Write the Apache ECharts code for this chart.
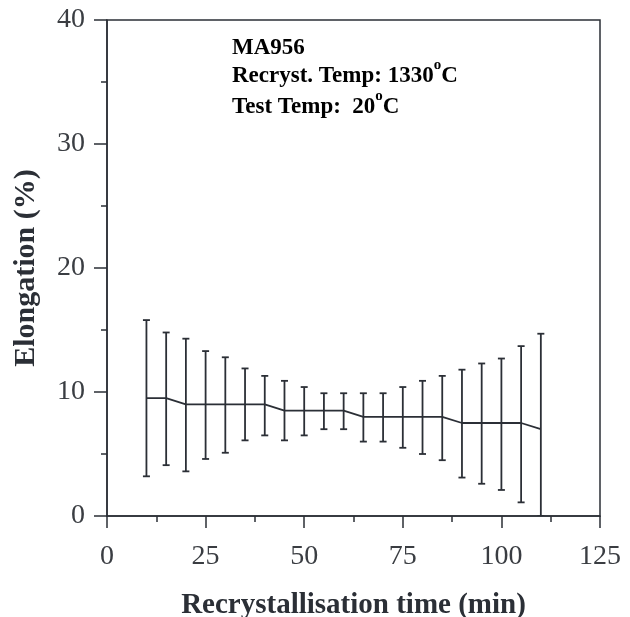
<!DOCTYPE html>
<html>
<head>
<meta charset="utf-8">
<script src="https://cdn.jsdelivr.net/npm/echarts@6/dist/echarts.min.js"></script>
<style>
  html, body { margin: 0; padding: 0; background: #ffffff; }
  #chart { width: 630px; height: 617px; }
</style>
</head>
<body>
<div id="chart"></div>
<script>
// Recrystallisation time (min)
const times = [10, 15, 20, 25, 30, 35, 40, 45, 50, 55, 60, 65, 70, 75, 80, 85, 90, 95, 100, 105, 110];
// Mean elongation (%)
const meanElong = [9.5, 9.5, 9, 9, 9, 9, 9, 8.5, 8.5, 8.5, 8.5, 8, 8, 8, 8, 8, 7.5, 7.5, 7.5, 7.5, 7];
// Error bar limits (%)
const upperElong = [15.8, 14.8, 14.3, 13.3, 12.8, 11.9, 11.3, 10.9, 10.4, 9.9, 9.9, 9.9, 9.9, 10.4, 10.9, 11.3, 11.8, 12.3, 12.7, 13.7, 14.7];
const lowerElong = [3.2, 4.1, 3.6, 4.6, 5.1, 6.1, 6.5, 6.1, 6.5, 7.0, 7.0, 6.0, 6.0, 5.5, 5.0, 4.5, 3.1, 2.6, 2.1, 1.1, 0];

const ink = '#2b2f36';
const serif = '"Liberation Serif", "Times New Roman", serif';

const chart = echarts.init(document.getElementById('chart'));

const lineData = times.map((t, i) => [t, meanElong[i]]);
const barData = times.map((t, i) => [t, lowerElong[i], upperElong[i]]);

const sup = { fontFamily: serif, fontWeight: 'bold', fontSize: 15, color: ink, verticalAlign: 'top', lineHeight: 30 };
const base = { fontFamily: serif, fontWeight: 'bold', fontSize: 23, color: ink, verticalAlign: 'bottom', lineHeight: 30 };

chart.setOption({
  backgroundColor: '#ffffff',
  animation: false,
  grid: {
    left: 107, right: 30, top: 20, bottom: 101,
    outerBoundsMode: 'none',
    containLabel: false,
    show: true, borderColor: ink, borderWidth: 1.5, backgroundColor: 'transparent'
  },
  xAxis: {
    type: 'value', min: 0, max: 125, interval: 25,
    name: 'Recrystallisation time (min)',
    nameLocation: 'middle', nameGap: 75,
    nameTextStyle: { fontFamily: serif, fontWeight: 'bold', fontSize: 29, color: ink },
    axisLine: { show: true, lineStyle: { color: ink, width: 1.5 } },
    axisTick: { show: true, length: 12, lineStyle: { color: ink, width: 1.5 } },
    minorTick: { show: true, splitNumber: 2, length: 6, lineStyle: { color: ink, width: 1.5 } },
    axisLabel: { fontFamily: serif, fontSize: 28, color: '#3a3d42', margin: 27 },
    splitLine: { show: false }
  },
  yAxis: {
    type: 'value', min: 0, max: 40, interval: 10,
    name: 'Elongation (%)',
    nameLocation: 'middle', nameGap: 66,
    nameTextStyle: { fontFamily: serif, fontWeight: 'bold', fontSize: 30, color: ink },
    axisLine: { show: true, lineStyle: { color: ink, width: 1.5 } },
    axisTick: { show: true, length: 13, lineStyle: { color: ink, width: 1.5 } },
    minorTick: { show: true, splitNumber: 2, length: 6, lineStyle: { color: ink, width: 1.5 } },
    axisLabel: { fontFamily: serif, fontSize: 28, color: '#3a3d42', margin: 22 },
    splitLine: { show: false }
  },
  series: [
    {
      type: 'custom',
      clip: true,
      data: barData,
      renderItem: function (params, api) {
        const x = api.value(0);
        const lo = api.coord([x, api.value(1)]);
        const hi = api.coord([x, api.value(2)]);
        const half = 3.5;
        const style = { stroke: ink, lineWidth: 1.8, fill: null };
        return {
          type: 'group',
          children: [
            { type: 'line', shape: { x1: hi[0], y1: hi[1], x2: lo[0], y2: lo[1] }, style: style },
            { type: 'line', shape: { x1: hi[0] - half, y1: hi[1], x2: hi[0] + half, y2: hi[1] }, style: style },
            { type: 'line', shape: { x1: lo[0] - half, y1: lo[1], x2: lo[0] + half, y2: lo[1] }, style: style }
          ]
        };
      },
      z: 3
    },
    {
      type: 'line',
      data: lineData,
      symbol: 'none',
      lineStyle: { color: ink, width: 1.8 },
      z: 4
    }
  ],
  graphic: [
    {
      type: 'text', left: 232, top: 37,
      style: {
        text: '{b|MA956}',
        rich: { b: base }
      }
    },
    {
      type: 'text', left: 232, top: 58,
      style: {
        text: '{b|Recryst. Temp: 1330}{s|o}{b|C}',
        rich: { b: base, s: sup }
      }
    },
    {
      type: 'text', left: 232, top: 89,
      style: {
        text: '{b|Test Temp:  20}{s|o}{b|C}',
        rich: { b: base, s: sup }
      }
    }
  ]
});
</script>
</body>
</html>
